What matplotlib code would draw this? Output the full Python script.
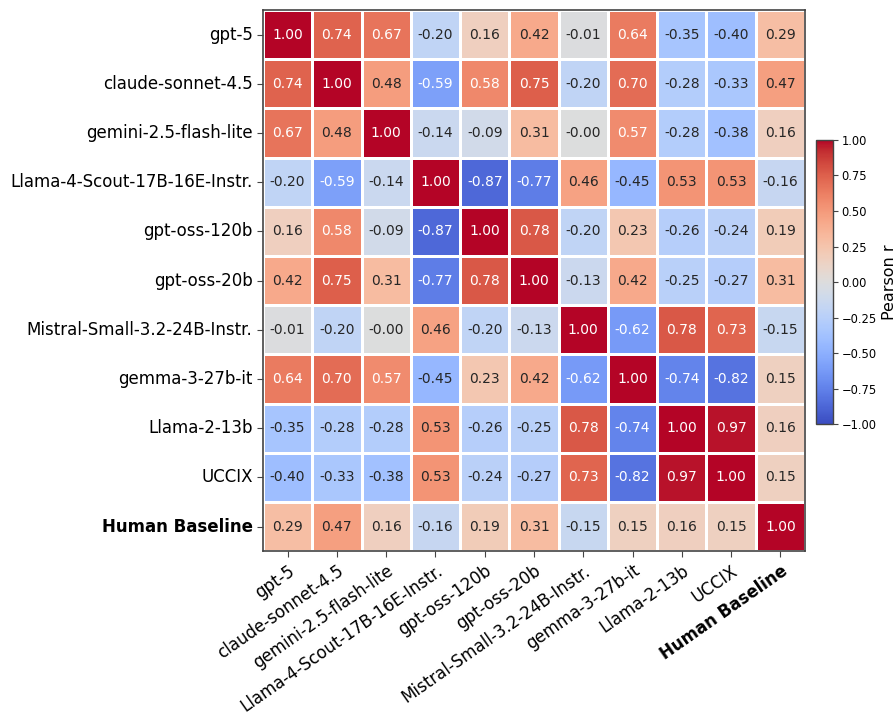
import matplotlib
matplotlib.use("Agg")
import matplotlib.pyplot as plt
import seaborn as sns
import numpy as np
import pandas as pd

labels = ["gpt-5", "claude-sonnet-4.5", "gemini-2.5-flash-lite", "Llama-4-Scout-17B-16E-Instr.",
          "gpt-oss-120b", "gpt-oss-20b", "Mistral-Small-3.2-24B-Instr.", "gemma-3-27b-it",
          "Llama-2-13b", "UCCIX", "Human Baseline"]

r_gpt5 = [1.00, 0.74, 0.67, -0.20, 0.16, 0.42, -0.01, 0.64, -0.35, -0.40, 0.29]
r_claude = [0.74, 1.00, 0.48, -0.59, 0.58, 0.75, -0.20, 0.70, -0.28, -0.33, 0.47]
r_gemini = [0.67, 0.48, 1.00, -0.14, -0.09, 0.31, -0.004, 0.57, -0.28, -0.38, 0.16]
r_llama4 = [-0.20, -0.59, -0.14, 1.00, -0.87, -0.77, 0.46, -0.45, 0.53, 0.53, -0.16]
r_oss120 = [0.16, 0.58, -0.09, -0.87, 1.00, 0.78, -0.20, 0.23, -0.26, -0.24, 0.19]
r_oss20 = [0.42, 0.75, 0.31, -0.77, 0.78, 1.00, -0.13, 0.42, -0.25, -0.27, 0.31]
r_mistral = [-0.01, -0.20, -0.004, 0.46, -0.20, -0.13, 1.00, -0.62, 0.78, 0.73, -0.15]
r_gemma = [0.64, 0.70, 0.57, -0.45, 0.23, 0.42, -0.62, 1.00, -0.74, -0.82, 0.15]
r_llama2 = [-0.35, -0.28, -0.28, 0.53, -0.26, -0.25, 0.78, -0.74, 1.00, 0.97, 0.16]
r_uccix = [-0.40, -0.33, -0.38, 0.53, -0.24, -0.27, 0.73, -0.82, 0.97, 1.00, 0.15]
r_human = [0.29, 0.47, 0.16, -0.16, 0.19, 0.31, -0.15, 0.15, 0.16, 0.15, 1.00]

df = pd.DataFrame([r_gpt5, r_claude, r_gemini, r_llama4, r_oss120, r_oss20, r_mistral,
                   r_gemma, r_llama2, r_uccix, r_human], index=labels, columns=labels)

fig = plt.figure(figsize=(8.96, 7.14), dpi=100)
ax = fig.add_axes([0.2935, 0.228, 0.605, 0.758])
cax = fig.add_axes([0.9107, 0.406, 0.019, 0.398])

sns.heatmap(df, ax=ax, cbar_ax=cax, cmap="coolwarm", vmin=-1, vmax=1, annot=True, fmt=".2f",
            annot_kws={"fontsize": 10}, linewidths=0.9, linecolor="white",
            cbar_kws={"label": "Pearson r"})

ax.set_xticklabels(labels, rotation=35, ha="right", rotation_mode="anchor", fontsize=12)
ax.set_yticklabels(labels, rotation=0, fontsize=12)
for t in ax.get_xticklabels() + ax.get_yticklabels():
    if t.get_text() == "Human Baseline":
        t.set_fontweight("bold")
for s in ax.spines.values():
    s.set_visible(True)
    s.set_color("#444444")
    s.set_linewidth(1.2)
ax.tick_params(length=4, color="#444444")
cax.tick_params(labelsize=8.3, color="#444444", pad=2.5)
cax.set_ylabel("Pearson r", fontsize=11.5)
cax.yaxis.set_label_coords(3.9, 0.5)
cbar = ax.collections[0].colorbar
cbar.outline.set_edgecolor("#444444")
cbar.outline.set_linewidth(1.0)

fig.savefig("out.png", dpi=100)
